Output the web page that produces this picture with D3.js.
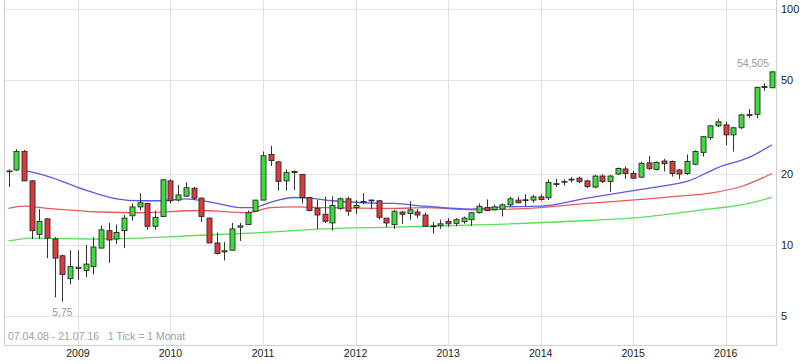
<!DOCTYPE html>
<html>
<head>
<meta charset="utf-8">
<script src="https://cdn.jsdelivr.net/npm/d3@7"></script>
<style>
  html, body { margin: 0; padding: 0; background: #fff; }
  svg { display: block; font-family: 'Liberation Sans', Arial, sans-serif; }
  .grid { stroke: #e2e2e2; stroke-width: 1; shape-rendering: crispEdges; }
  .frame { stroke: #cfcfcf; stroke-width: 1; shape-rendering: crispEdges; }
  .wick { stroke: #333; stroke-width: 1; }
  .ma { fill: none; stroke-width: 1.3; }
</style>
</head>
<body>
<svg id="svg" width="811" height="364"></svg>
<script>
(function () {
  // monthly candles, Apr 2008 .. Jul 2016
  const months = d3.timeMonth.range(new Date(2008, 3, 1), new Date(2016, 7, 1));

  const opens = [
    20.5, 20.8, 24.9, 18.7, 11.1, 12.9, 10.6, 9.0, 7.2, 7.95,
    7.8, 8.1, 9.7, 11.5, 10.6, 11.5, 13.3, 14.5, 15.0, 12.0,
    13.2, 18.7, 15.5, 16.1, 17.4, 15.8, 13.0, 10.2, 9.35, 9.5,
    11.9, 12.2, 13.9, 15.5, 24.2, 22.5, 18.7, 20.5, 19.9, 15.9,
    14.3, 13.5, 12.4, 14.3, 15.7, 14.4, 15.2, 15.5, 15.4, 13.0,
    12.2, 13.8, 13.6, 13.8, 13.4, 11.95, 12.1, 12.6, 12.35, 12.55,
    12.8, 13.7, 14.4, 14.1, 14.2, 14.8, 15.5, 15.45, 15.5, 16.0,
    15.85, 18.2, 18.5, 18.9, 19.2, 18.7, 17.6, 19.6, 18.6, 20.0,
    21.0, 20.1, 19.4, 22.3, 20.9, 22.7, 22.6, 20.8, 20.1, 22.0,
    24.7, 28.5, 32.0, 32.3, 29.3, 31.4, 35.5, 35.8, 46.5, 46.4
  ];
  const highs = [
    20.9, 25.5, 25.3, 18.8, 14.2, 13.0, 10.8, 9.1, 9.5, 9.5,
    10.0, 10.8, 12.1, 12.4, 12.2, 13.4, 15.0, 16.6, 15.1, 14.0,
    19.0, 19.0, 18.0, 18.4, 17.6, 15.9, 13.1, 11.3, 10.3, 12.4,
    12.4, 14.0, 15.5, 24.9, 26.3, 22.7, 20.9, 20.7, 20.0, 16.0,
    15.5, 16.0, 16.1, 15.9, 16.0, 15.5, 16.6, 15.6, 15.5, 13.0,
    14.1, 13.9, 15.3, 14.2, 13.7, 12.5, 12.8, 13.0, 13.0, 13.2,
    13.8, 15.0, 15.6, 14.8, 15.0, 16.0, 16.0, 16.4, 16.3, 16.4,
    19.0, 19.1, 19.0, 19.4, 19.5, 18.9, 19.8, 19.9, 19.8, 21.3,
    21.5, 20.6, 22.5, 23.8, 22.6, 23.2, 22.8, 21.0, 24.2, 25.2,
    29.0, 32.3, 34.2, 33.3, 31.7, 36.0, 37.7, 46.9, 48.5, 54.505
  ];
  const lows = [
    17.6, 20.6, 18.7, 10.6, 10.6, 8.8, 6.0, 5.75, 6.8, 7.1,
    7.3, 7.5, 9.7, 8.4, 10.1, 9.7, 12.7, 14.0, 11.6, 11.6,
    13.2, 15.0, 15.3, 16.0, 15.5, 12.5, 10.2, 9.1, 8.6, 9.5,
    10.4, 12.2, 13.9, 15.5, 21.6, 17.0, 17.0, 17.1, 15.0, 13.9,
    11.7, 12.4, 11.5, 14.1, 13.3, 13.5, 14.9, 14.2, 12.8, 11.9,
    11.7, 12.3, 12.8, 13.0, 12.0, 11.2, 11.7, 11.95, 12.0, 12.3,
    12.05, 13.6, 13.9, 14.0, 13.2, 14.6, 15.0, 14.6, 15.1, 15.4,
    15.5, 17.6, 17.9, 18.4, 18.3, 17.4, 17.4, 18.3, 16.8, 19.8,
    19.1, 19.05, 19.2, 20.8, 20.7, 20.5, 19.5, 19.05, 19.8, 21.8,
    23.7, 27.9, 31.6, 26.5, 24.9, 31.0, 34.5, 34.5, 45.0, 46.4
  ];
  const closes = [
    20.6, 24.9, 18.7, 11.5, 12.6, 10.7, 8.8, 7.5, 8.1, 8.05,
    8.3, 9.8, 11.6, 10.5, 11.3, 13.0, 14.5, 15.1, 12.0, 13.1,
    18.9, 15.4, 16.3, 17.5, 15.8, 13.2, 10.2, 9.2, 9.45, 11.7,
    12.05, 13.7, 15.5, 23.9, 22.8, 18.6, 20.3, 20.3, 15.9, 14.0,
    13.4, 12.6, 14.7, 15.7, 13.9, 14.7, 15.3, 15.4, 13.1, 12.4,
    13.9, 13.5, 14.1, 13.4, 12.0, 12.05, 12.3, 12.3, 12.8, 13.0,
    13.7, 14.6, 14.0, 14.5, 14.8, 15.7, 15.1, 15.55, 16.0, 15.6,
    18.4, 18.1, 18.6, 19.0, 18.6, 17.7, 19.6, 18.6, 19.6, 21.1,
    20.1, 19.2, 22.2, 21.1, 22.4, 22.1, 20.1, 20.0, 22.6, 24.9,
    28.8, 32.0, 33.3, 29.3, 31.4, 35.6, 35.7, 46.6, 47.0, 54.2
  ];

  // moving averages: [month index, value]
  const maBlue = [
    [2, 20.7], [5, 19.6], [10, 17.1], [14, 15.7], [17, 15.4], [20, 15.4], [23, 15.7],
    [27, 15.0], [30, 14.4], [32, 14.4], [33, 14.8], [35, 15.5], [37, 15.9], [39, 15.8],
    [42, 15.4], [46, 15.1], [50, 15.0], [54, 14.6], [60, 14.2], [64, 14.5], [69, 14.6],
    [75, 15.8], [81, 17.0], [85, 17.8], [88, 18.6], [92, 21.3], [96, 23.5], [99, 26.6]
  ];
  const maRed = [
    [0, 14.3], [2, 14.6], [5, 14.3], [12, 13.8], [17, 13.7], [25, 14.0], [31, 13.7],
    [34, 14.4], [37, 14.5], [41, 14.4], [50, 14.3], [54, 14.4], [60, 14.1], [69, 14.4],
    [75, 15.0], [82, 15.6], [87, 16.1], [91, 16.6], [95, 17.7], [99, 20.1]
  ];
  const maGreen = [
    [0, 10.4], [3, 10.7], [12, 10.6], [25, 11.0], [33, 11.3], [41, 11.7], [50, 11.9],
    [62, 12.2], [75, 12.7], [82, 13.1], [90, 14.1], [95, 14.8], [99, 15.9]
  ];

  const yearLabels = ['2009', '2010', '2011', '2012', '2013', '2014', '2015', '2016'];
  const priceTicks = [5, 10, 20, 50, 100];
  const maxLabel = '54,505';
  const minLabel = '5,75';
  const footLabel = '07.04.08 - 21.07.16   1 Tick = 1 Monat';

  const svg = d3.select('#svg');
  const left = 4.5, right = 776.5, bottom = 345.5;

  const x = d3.scaleLinear().domain([0, months.length - 1]).range([8.5, 772]);
  const y = d3.scaleLog().domain([5, 100]).range([316, 9.1]);

  const janIdx = yearLabels.map(yr => months.findIndex(m => m.getFullYear() === +yr && m.getMonth() === 0));

  // grid
  const gGrid = svg.append('g');
  gGrid.selectAll('line.h').data(priceTicks).join('line')
    .attr('class', 'grid')
    .attr('x1', left).attr('x2', right)
    .attr('y1', d => Math.round(y(d)) + 0.5).attr('y2', d => Math.round(y(d)) + 0.5);
  gGrid.selectAll('line.v').data(janIdx).join('line')
    .attr('class', 'grid')
    .attr('x1', d => Math.round(x(d)) + 0.5).attr('x2', d => Math.round(x(d)) + 0.5)
    .attr('y1', 0).attr('y2', bottom);

  // frame
  svg.append('line').attr('class', 'frame').attr('x1', left).attr('x2', left).attr('y1', 0).attr('y2', bottom);
  svg.append('line').attr('class', 'frame').attr('x1', right).attr('x2', right).attr('y1', 0).attr('y2', bottom);
  svg.append('line').attr('class', 'frame').attr('x1', left).attr('x2', right).attr('y1', bottom).attr('y2', bottom);

  // moving averages
  const line = d3.line().x(d => x(d[0])).y(d => y(d[1])).curve(d3.curveMonotoneX);
  const gMa = svg.append('g');
  gMa.append('path').attr('class', 'ma').attr('stroke', '#58e058').attr('d', line(maGreen));
  gMa.append('path').attr('class', 'ma').attr('stroke', '#e85a5a').attr('d', line(maRed));
  gMa.append('path').attr('class', 'ma').attr('stroke', '#5a5ae6').attr('d', line(maBlue));

  // candles
  const candles = months.map((m, i) => ({ i, o: opens[i], h: highs[i], l: lows[i], c: closes[i] }));
  const gC = svg.append('g');
  const cg = gC.selectAll('g.candle').data(candles).join('g').attr('class', 'candle');
  cg.append('line').attr('class', 'wick')
    .attr('x1', d => Math.round(x(d.i)) + 0.5).attr('x2', d => Math.round(x(d.i)) + 0.5)
    .attr('y1', d => y(d.h)).attr('y2', d => y(d.l));
  cg.append('rect')
    .attr('x', d => Math.round(x(d.i)) - 2)
    .attr('y', d => y(Math.max(d.o, d.c)))
    .attr('width', 5)
    .attr('height', d => Math.max(0.8, Math.abs(y(d.o) - y(d.c))))
    .attr('fill', d => d.c >= d.o ? '#3bdc3b' : '#dc3b3b')
    .attr('stroke', '#2a2a2a')
    .attr('stroke-width', 0.9);

  // right axis labels
  svg.append('g').selectAll('text').data(priceTicks).join('text')
    .attr('x', 781).attr('y', d => y(d)).attr('dy', '0.35em')
    .attr('font-size', 11).attr('fill', '#222')
    .text(d => d);

  // year labels
  svg.append('g').selectAll('text').data(yearLabels).join('text')
    .attr('x', (d, k) => x(janIdx[k])).attr('y', 357)
    .attr('text-anchor', 'middle').attr('font-size', 10.5).attr('fill', '#222')
    .text(d => d);

  // extremes
  const iMax = d3.maxIndex(highs), iMin = d3.minIndex(lows);
  svg.append('text').attr('x', x(iMax) - 3).attr('y', y(highs[iMax]) - 4)
    .attr('text-anchor', 'end').attr('font-size', 10.5).attr('fill', '#999').text(maxLabel);
  svg.append('text').attr('x', x(iMin)).attr('y', y(lows[iMin]) + 14)
    .attr('text-anchor', 'middle').attr('font-size', 10.5).attr('fill', '#999').text(minLabel);

  svg.append('text').attr('x', 8).attr('y', 340)
    .attr('font-size', 10.5).attr('fill', '#a0a0a0').style('white-space', 'pre')
    .text(footLabel);
})();
</script>
</body>
</html>
